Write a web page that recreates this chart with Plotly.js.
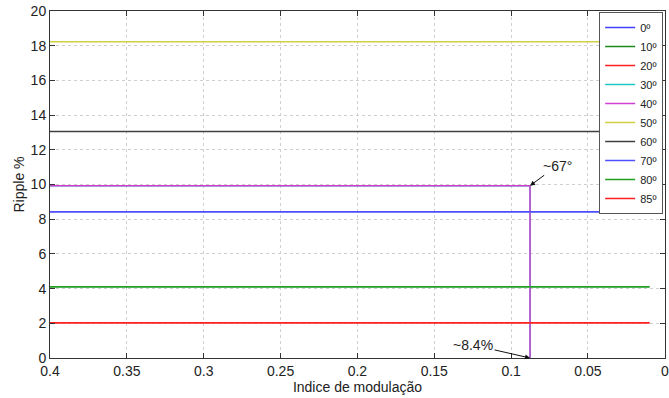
<!DOCTYPE html>
<html>
<head>
<meta charset="utf-8">
<script src="https://cdn.plot.ly/plotly-3.0.1.min.js"></script>
<style>html,body{margin:0;padding:0;background:#fff;}#chart{width:669px;height:398px;}</style>
</head>
<body>
<div id="chart"></div>
<script>
// Series names (angles) and colors
const seriesNames = ['0º','10º','20º','30º','40º','50º','60º','70º','80º','85º'];
const seriesColors = ['#4040ff','#1a8a1a','#ff2020','#20c8c8','#d040d0','#d0d040','#404040','#5050ff','#20a020','#ff2020'];
// x values (modulation index) for each series
const xFull = [0.4, 0.01];
const xCut = [0.4, 0.0877, 0.0877];
// ripple % values
const ripple0 = [8.43, 8.43];
const ripple10 = [4.11, 4.11];
const ripple20 = [2.03, 2.03];
const ripple30 = [9.93, 9.93, 0];
const ripple40 = [9.93, 9.93, 0];
const ripple50 = [18.23, 18.23];
const ripple60 = [13.05, 13.05];
const ripple70 = [8.43, 8.43];
const ripple80 = [4.11, 4.11];
const ripple85 = [2.03, 2.03];
const xTicks = [0.4, 0.35, 0.3, 0.25, 0.2, 0.15, 0.1, 0.05, 0];
const xTickText = ['0.4','0.35','0.3','0.25','0.2','0.15','0.1','0.05','0'];
const yTicks = [0,2,4,6,8,10,12,14,16,18,20];

const seriesX = [xFull, xFull, xFull, xCut, xCut, xFull, xFull, xFull, xFull, xFull];
const seriesY = [ripple0, ripple10, ripple20, ripple30, ripple40, ripple50, ripple60, ripple70, ripple80, ripple85];

const traces = seriesNames.map((n, i) => ({
  x: seriesX[i], y: seriesY[i], name: n, type: 'scatter', mode: 'lines',
  line: {color: seriesColors[i], width: 1.5}
}));

const font = {family: 'Liberation Sans, Arial, sans-serif', size: 14, color: '#222'};
const layout = {
  width: 669, height: 398,
  margin: {l: 50, r: 4, t: 11, b: 40},
  paper_bgcolor: '#fff', plot_bgcolor: '#fff',
  font: font,
  showlegend: true,
  xaxis: {
    range: [0.4, -0.0001], autorange: false,
    tickvals: xTicks, ticktext: xTickText,
    ticks: 'inside', ticklen: 5, tickcolor: '#333',
    showline: true, linecolor: '#333', linewidth: 1, mirror: 'ticks',
    showgrid: true, gridcolor: '#cfcfcf', griddash: 'dot', gridwidth: 1,
    zeroline: false,
    title: {text: 'Indice de modulação', font: {size: 14}, standoff: 0}
  },
  yaxis: {
    range: [0, 20], autorange: false,
    tickvals: yTicks,
    ticks: 'inside', ticklen: 5, tickcolor: '#333',
    showline: true, linecolor: '#333', linewidth: 1, mirror: 'ticks',
    showgrid: true, gridcolor: '#cfcfcf', griddash: 'dot', gridwidth: 1,
    zeroline: false,
    title: {text: 'Ripple %', font: {size: 14}, standoff: 2}
  },
  legend: {
    x: 0.997, y: 0.997, xanchor: 'right', yanchor: 'top',
    bgcolor: '#fff', bordercolor: '#555', borderwidth: 1,
    font: {size: 11}, itemwidth: 30, tracegroupgap: 0
  },
  annotations: [
    {x: 0.0877, y: 9.93, xref: 'x', yref: 'y', text: '~67°', showarrow: true,
     arrowhead: 2, arrowsize: 1, arrowwidth: 1, arrowcolor: '#111', ax: 27, ay: -20,
     font: {size: 14}},
    {x: 0.0877, y: 0, xref: 'x', yref: 'y', text: '~8.4%', showarrow: true,
     arrowhead: 2, arrowsize: 1, arrowwidth: 1, arrowcolor: '#111', ax: -57, ay: -13,
     font: {size: 14}}
  ]
};
Plotly.newPlot('chart', traces, layout, {displayModeBar: false, staticPlot: true});
</script>
</body>
</html>
